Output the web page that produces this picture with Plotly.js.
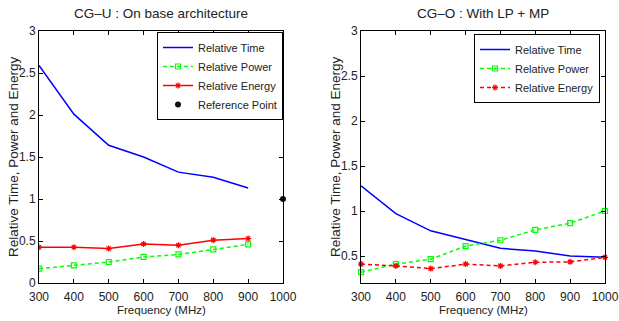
<!DOCTYPE html>
<html>
<head>
<meta charset="utf-8">
<script src="https://cdn.plot.ly/plotly-3.0.1.min.js"></script>
<style>html,body{margin:0;padding:0;background:#fff;}#chart{width:619px;height:321px;}</style>
</head>
<body>
<div id="chart"></div>
<script>
// Left panel: CG-U on base architecture
const freqU = [300, 400, 500, 600, 700, 800, 900];
const timeU = [2.59, 2.01, 1.64, 1.50, 1.32, 1.26, 1.13];
const powerU = [0.17, 0.21, 0.25, 0.31, 0.34, 0.40, 0.46];
const energyU = [0.425, 0.425, 0.41, 0.465, 0.45, 0.51, 0.53];
const refX = [1000];
const refY = [1];

// Right panel: CG-O with LP + MP
const freqO = [300, 400, 500, 600, 700, 800, 900, 1000];
const timeO = [1.28, 0.97, 0.78, 0.68, 0.585, 0.556, 0.50, 0.485];
const powerO = [0.32, 0.41, 0.465, 0.61, 0.675, 0.79, 0.865, 1.0];
const energyO = [0.41, 0.39, 0.36, 0.41, 0.39, 0.43, 0.435, 0.485];

const xTicks = [300, 400, 500, 600, 700, 800, 900, 1000];
const yTicks = [0, 0.5, 1, 1.5, 2, 2.5, 3];
const yTitle = 'Relative Time, Power and Energy';
const xTitle = 'Frequency (MHz)';

const FONT = 'Liberation Sans, Arial, Helvetica, sans-serif';
const TXT = '#222';

const traces = [
  {x: freqU, y: timeU, type: 'scatter', mode: 'lines', name: 'Relative Time',
   line: {color: '#0000ff', width: 1.5}, xaxis: 'x', yaxis: 'y', legend: 'legend'},
  {x: freqU, y: powerU, type: 'scatter', mode: 'lines+markers', name: 'Relative Power',
   line: {color: '#00ff00', width: 1.5, dash: '4px,3px'},
   marker: {symbol: 'square-open', size: 5, color: '#00ff00', line: {width: 1.2}},
   xaxis: 'x', yaxis: 'y', legend: 'legend'},
  {x: freqU, y: energyU, type: 'scatter', mode: 'lines+markers', name: 'Relative Energy',
   line: {color: '#ff0000', width: 1.5},
   marker: {symbol: 'asterisk-open', size: 5, color: '#ff0000', line: {width: 1.2, color: '#ff0000'}},
   xaxis: 'x', yaxis: 'y', legend: 'legend'},
  {x: refX, y: refY, type: 'scatter', mode: 'markers', name: 'Reference Point',
   marker: {symbol: 'circle', size: 6, color: '#111'}, cliponaxis: false,
   xaxis: 'x', yaxis: 'y', legend: 'legend'},

  {x: freqO, y: timeO, type: 'scatter', mode: 'lines', name: 'Relative Time',
   line: {color: '#0000ff', width: 1.5}, xaxis: 'x2', yaxis: 'y2', legend: 'legend2'},
  {x: freqO, y: powerO, type: 'scatter', mode: 'lines+markers', name: 'Relative Power',
   line: {color: '#00ff00', width: 1.5, dash: '4px,3px'},
   marker: {symbol: 'square-open', size: 5, color: '#00ff00', line: {width: 1.2}},
   cliponaxis: false, xaxis: 'x2', yaxis: 'y2', legend: 'legend2'},
  {x: freqO, y: energyO, type: 'scatter', mode: 'lines+markers', name: 'Relative Energy',
   line: {color: '#ff0000', width: 1.5, dash: '4px,3px'},
   marker: {symbol: 'asterisk-open', size: 5, color: '#ff0000', line: {width: 1.2, color: '#ff0000'}},
   cliponaxis: false, xaxis: 'x2', yaxis: 'y2', legend: 'legend2'}
];

function xax(domain) {
  return {
    domain: domain, range: [300, 1000], tickvals: xTicks, ticktext: xTicks.map(String),
    ticks: 'inside', ticklen: 4, tickcolor: '#000', showline: true, linecolor: '#000', linewidth: 1,
    mirror: 'allticks', showgrid: false, zeroline: false, ticklabelstandoff: 3,
    tickfont: {family: FONT, size: 12, color: TXT}
  };
}
function yax(domain, range, anchor) {
  return {
    domain: domain, range: range, anchor: anchor, tickvals: yTicks, ticktext: yTicks.map(String),
    ticks: 'inside', ticklen: 4, tickcolor: '#000', showline: true, linecolor: '#000', linewidth: 1,
    mirror: 'allticks', showgrid: false, zeroline: false,
    tickfont: {family: FONT, size: 12, color: TXT}
  };
}

const yDom = [38/321, 290/321];
const legendStyle = {
  bgcolor: '#fff', bordercolor: '#000', borderwidth: 1,
  font: {family: FONT, size: 11, color: TXT},
  xanchor: 'right', yanchor: 'top', tracegroupgap: 0, itemwidth: 30
};

function ann(text, x, y, size, angle) {
  return {text: text, xref: 'paper', yref: 'paper', x: x/619, y: (321-y)/321,
    xanchor: 'center', yanchor: 'middle', showarrow: false, textangle: angle || 0,
    font: {family: FONT, size: size, color: TXT}};
}

const layout = {
  width: 619, height: 321,
  margin: {l: 0, r: 0, t: 0, b: 0},
  paper_bgcolor: '#fff', plot_bgcolor: '#fff',
  showlegend: true,
  xaxis: Object.assign(xax([39/619, 283/619]), {anchor: 'y'}),
  yaxis: yax(yDom, [0, 3], 'x'),
  xaxis2: Object.assign(xax([361/619, 605/619]), {anchor: 'y2'}),
  yaxis2: yax(yDom, [0.2, 3], 'x2'),
  legend: Object.assign({}, legendStyle, {x: 283/619, y: (321-32)/321}),
  legend2: Object.assign({}, legendStyle, {x: 600/619, y: (321-34)/321}),
  annotations: [
    ann('CG\u2013U : On base architecture', 161, 13, 13.5, 0),
    ann('CG\u2013O : With LP + MP', 483, 13, 13.5, 0),
    ann(xTitle, 161, 310, 11.5, 0),
    ann(xTitle, 483, 310, 11.5, 0),
    ann(yTitle, 13, 157, 13.5, -90),
    ann(yTitle, 335, 157, 13.5, -90)
  ]
};

Plotly.newPlot('chart', traces, layout, {displayModeBar: false, staticPlot: true});
</script>
</body>
</html>
